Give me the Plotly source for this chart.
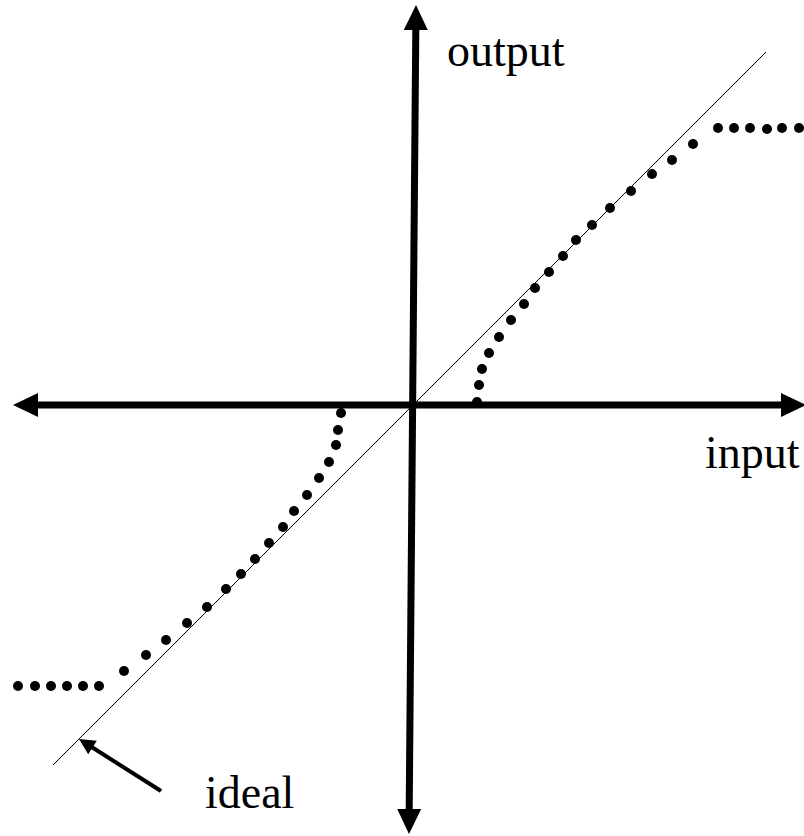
import math
import plotly.graph_objects as go

# ---- data (input / output units; 1 unit = 100 px in the figure) ----
upper_input = [0.64, 0.66, 0.69, 0.76, 0.86, 0.98, 1.11, 1.22, 1.36, 1.50, 1.63, 1.79,
               1.97, 2.18, 2.39, 2.59, 2.80, 3.05, 3.21, 3.37, 3.54, 3.69, 3.86]
upper_output = [0.03, 0.20, 0.36, 0.52, 0.68, 0.85, 1.01, 1.17, 1.33, 1.49, 1.65, 1.80,
                1.97, 2.14, 2.31, 2.45, 2.61, 2.77, 2.77, 2.77, 2.76, 2.77, 2.77]
lower_input = [-0.72, -0.75, -0.77, -0.84, -0.94, -1.06, -1.19, -1.30, -1.44, -1.58, -1.72,
               -1.87, -2.06, -2.26, -2.47, -2.67, -2.89, -3.14, -3.30, -3.46, -3.62, -3.78, -3.95]
lower_output = [-0.08, -0.25, -0.40, -0.57, -0.73, -0.90, -1.06, -1.22, -1.38, -1.54, -1.69,
                -1.84, -2.02, -2.18, -2.35, -2.50, -2.66, -2.81, -2.81, -2.81, -2.81, -2.81, -2.81]
ideal_input = [-3.60, 3.53]
ideal_output = [-3.60, 3.53]

# axis extents (tips of the arrows)
x_axis_left = (-4.00, 0.0)
x_axis_right = (3.93, 0.0)
y_axis_top = (0.03, 4.00)
y_axis_bottom = (-0.04, -4.29)
# pointer to the ideal line
pointer_tail = (-2.52, -3.86)
pointer_tip = (-3.34, -3.34)

labels = {"output": (0.32, 3.55), "input": (2.90, -0.47), "ideal": (-2.10, -3.87)}

PX = 0.01  # data units per pixel


def head_path(tip, frm, length_px, half_px):
    dx, dy = tip[0] - frm[0], tip[1] - frm[1]
    d = math.hypot(dx, dy)
    ux, uy = dx / d, dy / d
    nx, ny = -uy, ux
    L, H = length_px * PX, half_px * PX
    bx, by = tip[0] - ux * L, tip[1] - uy * L
    c1 = (bx + nx * H, by + ny * H)
    c2 = (bx - nx * H, by - ny * H)
    return f"M {tip[0]},{tip[1]} L {c1[0]},{c1[1]} L {c2[0]},{c2[1]} Z", (bx + ux * 2 * PX, by + uy * 2 * PX)


shapes = []


def double_arrow(a, b, width, L, H):
    pa, base_a = head_path(a, b, L, H)
    pb, base_b = head_path(b, a, L, H)
    shapes.append(dict(type="line", x0=base_a[0], y0=base_a[1], x1=base_b[0], y1=base_b[1],
                       line=dict(color="black", width=width), layer="above"))
    for p in (pa, pb):
        shapes.append(dict(type="path", path=p, fillcolor="black",
                           line=dict(color="black", width=0), layer="above"))


double_arrow(x_axis_left, x_axis_right, 7, 25, 12)
double_arrow(y_axis_top, y_axis_bottom, 7, 25, 12)

pp, pbase = head_path(pointer_tip, pointer_tail, 16, 8)
shapes.append(dict(type="line", x0=pointer_tail[0], y0=pointer_tail[1], x1=pbase[0], y1=pbase[1],
                   line=dict(color="black", width=4), layer="above"))
shapes.append(dict(type="path", path=pp, fillcolor="black",
                   line=dict(color="black", width=0), layer="above"))

fig = go.Figure()
fig.add_trace(go.Scatter(x=ideal_input, y=ideal_output, mode="lines",
                         line=dict(color="black", width=1), hoverinfo="skip"))
fig.add_trace(go.Scatter(x=upper_input, y=upper_output, mode="markers",
                         marker=dict(color="black", size=10, line=dict(width=0))))
fig.add_trace(go.Scatter(x=lower_input, y=lower_output, mode="markers",
                         marker=dict(color="black", size=10, line=dict(width=0))))

annotations = []
for text, (x, y) in labels.items():
    annotations.append(dict(x=x, y=y, text=text, showarrow=False, xanchor="left", yanchor="middle",
                            font=dict(family="Liberation Serif, Times New Roman, serif", size=46,
                                      color="black")))

fig.update_layout(
    width=804, height=836, autosize=False,
    margin=dict(l=0, r=0, t=0, b=0),
    paper_bgcolor="white", plot_bgcolor="white",
    showlegend=False,
    xaxis=dict(range=[-4.13, 3.91], visible=False, fixedrange=True),
    yaxis=dict(range=[-4.31, 4.05], visible=False, fixedrange=True),
    shapes=shapes,
    annotations=annotations,
)

fig.write_html("out.html", config={"displayModeBar": False},
               post_script="document.body.style.margin='0';document.body.style.overflow='hidden';")
